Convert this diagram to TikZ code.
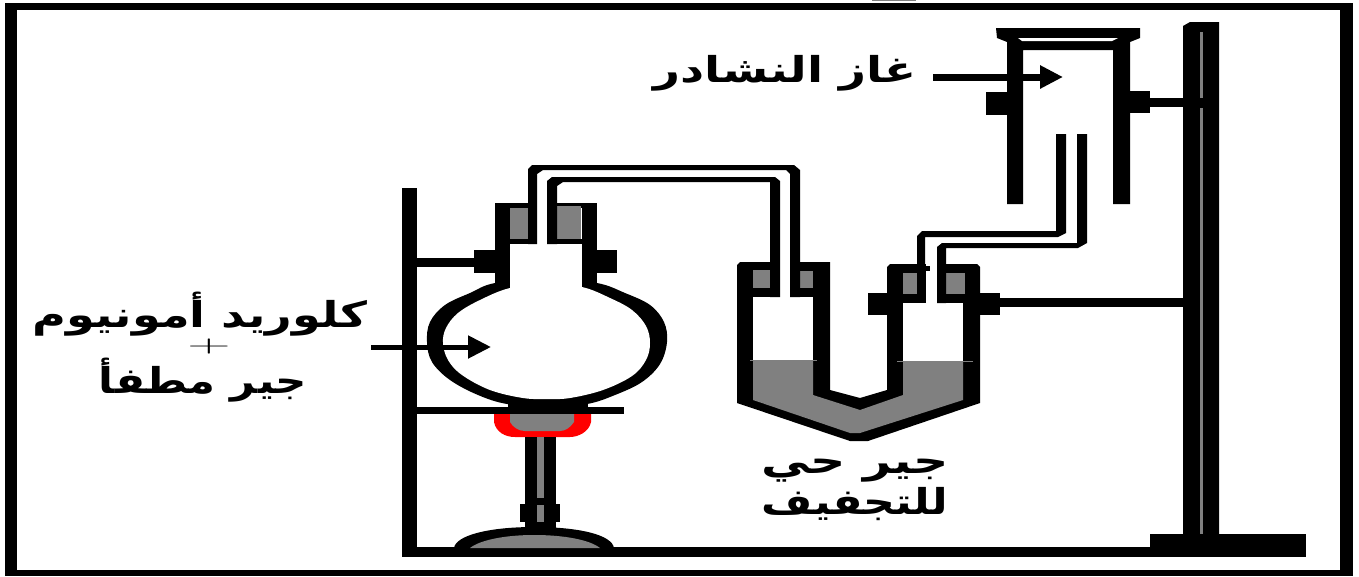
\documentclass[tikz,border=0pt]{standalone}
\usepackage{fontspec}
\usetikzlibrary{arrows.meta}
\TeXXeTstate=1
\newfontfamily\arabicfont[Script=Arabic]{DejaVu Sans}
\definecolor{fillgrey}{RGB}{128,128,128}
\definecolor{flame}{RGB}{255,0,0}
\tikzset{
  px/.style={x=1pt,y=-1pt},
  blk/.style={fill=black,draw=none},
  gry/.style={fill=fillgrey,draw=none},
  wht/.style={fill=white,draw=none},
  ar/.style={font=\arabicfont\bfseries\fontsize{34pt}{36pt}\selectfont,inner sep=0pt,text=black},
  pointer/.style={draw=black,line width=#1,-{Triangle[length=23pt,width=22pt]}}
}
\begin{document}
\begin{tikzpicture}[px]
\useasboundingbox (0,0) rectangle (1359,576);
\fill[white] (0,0) rectangle (1359,576);
% frame
\fill[blk] (5,3) rectangle (1353,576);
\fill[wht] (17,10) rectangle (1340,570);
\fill[gry] (872,0) rectangle (916,1.2);
% left stand
\fill[blk] (402,188) rectangle (417,557);
\fill[blk] (402,547) rectangle (1160,557);
% right stand
\fill[blk] (1183,26) -- (1190,22) -- (1219,22) -- (1219,540) -- (1183,540) -- cycle;
\fill[gry] (1200,32) rectangle (1203,98);
\fill[gry] (1200,108) rectangle (1203,534);
\fill[blk] (1150,534) rectangle (1306,557);
% cylinder
\fill[blk] (996,28) -- (1140,28) -- (1140,38) -- (1130,42) -- (1130,204) -- (1113,204) -- (1113,50) -- (1023,50) -- (1023,204) -- (1007,204) -- (1007,42) -- (997,38) -- cycle;
\fill[wht] (1018,38) -- (1118,38) -- (1112,41) -- (1022,41) -- cycle;
\fill[blk] (986,92) rectangle (1007,115);
\fill[blk] (1130,91) rectangle (1150,113);
\fill[blk] (1150,98) rectangle (1183,107);
% U tube body
\fill[blk] (737,265) -- (740,262) -- (830,262) -- (830,390) -- (860,398) -- (887,390) -- (887,267) -- (890,264) -- (977,264) -- (980,267) -- (980,403) -- (868,441) -- (850,441) -- (737,403) -- cycle;
\fill[wht] (753,297) rectangle (813,360);
\fill[wht] (903,303) rectangle (963,361);
\fill[gry] (753,360) -- (813,360) -- (813,395) -- (860,410) -- (903,395) -- (903,361) -- (963,361) -- (963,400) -- (860,433) -- (850,433) -- (753,400) -- cycle;
\fill[gry] (750,359.5) rectangle (817,360.5);
\fill[gry] (897,360.5) rectangle (973,361.5);
\fill[gry] (753,270) rectangle (770,288);
\fill[gry] (800,271) rectangle (813,288);
\fill[gry] (903,273) rectangle (917,294);
\fill[gry] (946,273) rectangle (965,294);
\fill[wht] (780,258) rectangle (790,297);
\fill[wht] (926,258) rectangle (937,303);
\fill[blk] (917,264) rectangle (926,303);
\fill[blk] (926,266) rectangle (930,271);
\fill[blk] (868,293) rectangle (887,315);
\fill[blk] (980,293) rectangle (1000,315);
\fill[blk] (1000,298) rectangle (1183,307);
% delivery tube to cylinder
\fill[blk] (1056,134) -- (1066,134) -- (1066,233) -- (1058,237) -- (925,237) -- (925,264) -- (917,264) -- (917,236) -- (922,231) -- (1056,231) -- cycle;
\fill[blk] (1077,134) -- (1087,134) -- (1087,243) -- (1078,248) -- (946,248) -- (946,303) -- (937,303) -- (937,247) -- (942,243) -- (1077,243) -- cycle;
% flask
\fill[blk] plot[smooth cycle,tension=0.6] coordinates {(495,283) (470,293) (445,305) (430,322) (427,342) (432,362) (450,380) (478,395) (507,404) (547,407) (587,404) (615,395) (642,382) (660,364) (667,342) (664,322) (650,305) (625,293) (597,283) (547,278)};
\fill[wht] plot[smooth cycle,tension=0.6] coordinates {(510,288) (480,300) (458,313) (446,328) (443,343) (448,360) (462,375) (490,390) (523,398) (547,399) (570,398) (603,390) (632,376) (646,360) (650,343) (646,326) (632,310) (610,298) (582,287) (547,284)};
\fill[wht] (510,240) rectangle (582,295);
\fill[blk] (495,203) rectangle (510,287);
\fill[blk] (582,287) -- (582,203) -- (597,203) -- (597,287) -- cycle;
\fill[blk] (495,203) rectangle (597,208);
\fill[gry] (510,208) rectangle (528,239);
\fill[gry] (557,206) rectangle (581,239);
\fill[blk] (510,239) rectangle (537,244);
\fill[blk] (547,239) rectangle (582,244);
\fill[wht] (537,200) rectangle (547,244);
\fill[blk] (474,250) rectangle (495,273);
\fill[blk] (597,250) rectangle (617,273);
\fill[blk] (417,258) rectangle (474,267);
% tubes flask to U tube
\fill[blk] (528,244) -- (528,169) -- (532,165) -- (794,165) -- (800,170) -- (800,297) -- (790,297) -- (790,174) -- (786,170) -- (543,170) -- (537,174) -- (537,244) -- cycle;
\fill[blk] (547,244) -- (547,181) -- (552,177) -- (775,177) -- (780,181) -- (780,297) -- (770,297) -- (770,182) -- (563,182) -- (557,186) -- (557,244) -- cycle;
% tripod ring
\fill[blk] (417,407) rectangle (624,414);
\fill[blk] (508,400) rectangle (588,414);
% burner head
\fill[flame] (494,414) -- (591,414) -- (591,422) .. controls (589,432) and (578,437) .. (570,437) -- (515,437) .. controls (505,437) and (496,432) .. (494,422) -- cycle;
\fill[gry] (510,414) -- (574,414) -- (574,422) .. controls (570,428) and (565,431) .. (560,431) -- (525,431) .. controls (518,431) and (513,427) .. (510,422) -- cycle;
% burner stem
\fill[blk] (525,437) rectangle (556,530);
\fill[gry] (537,437) rectangle (544,498);
\fill[blk] (520,504) rectangle (560,522);
\fill[gry] (537,505) rectangle (544,522);
% burner base
\fill[blk] (454,548) .. controls (456,535) and (490,527) .. (534,527) .. controls (580,527) and (612,535) .. (614,548) -- cycle;
\fill[gry] (470,548) .. controls (480,540) and (505,535) .. (534,535) .. controls (565,535) and (590,540) .. (600,548) -- cycle;
% labels
\node[ar,xscale=1.36,yscale=1.05] (kl) at (200,314) {\beginR كلوريد أمونيوم\endR};
\node[font=\fontsize{24pt}{24pt}\selectfont,inner sep=0pt,xscale=2.5,yscale=1] (pl) at (209,347) {+};
\node[ar,xscale=1.28,yscale=1.05] (mt) at (203,380) {\beginR جير مطفأ\endR};
\node[ar,xscale=1.38,yscale=1.05] (gz) at (785,73) {\beginR غاز النشادر\endR};
\node[ar,xscale=1.44,yscale=1.05] (hy) at (855,471) {\beginR جير حي\endR};
\node[ar,xscale=1.3,yscale=1.05] (tj) at (855,504) {\beginR للتجفيف\endR};
% pointers
\coordinate (c1s) at (371,347); \coordinate (c1e) at (491,347);
\coordinate (c2s) at (933,77);  \coordinate (c2e) at (1063,77);
\draw[pointer=5pt] (c1s) -- (c1e);
\draw[pointer=7pt] (c2s) -- (c2e);
\end{tikzpicture}
\end{document}
